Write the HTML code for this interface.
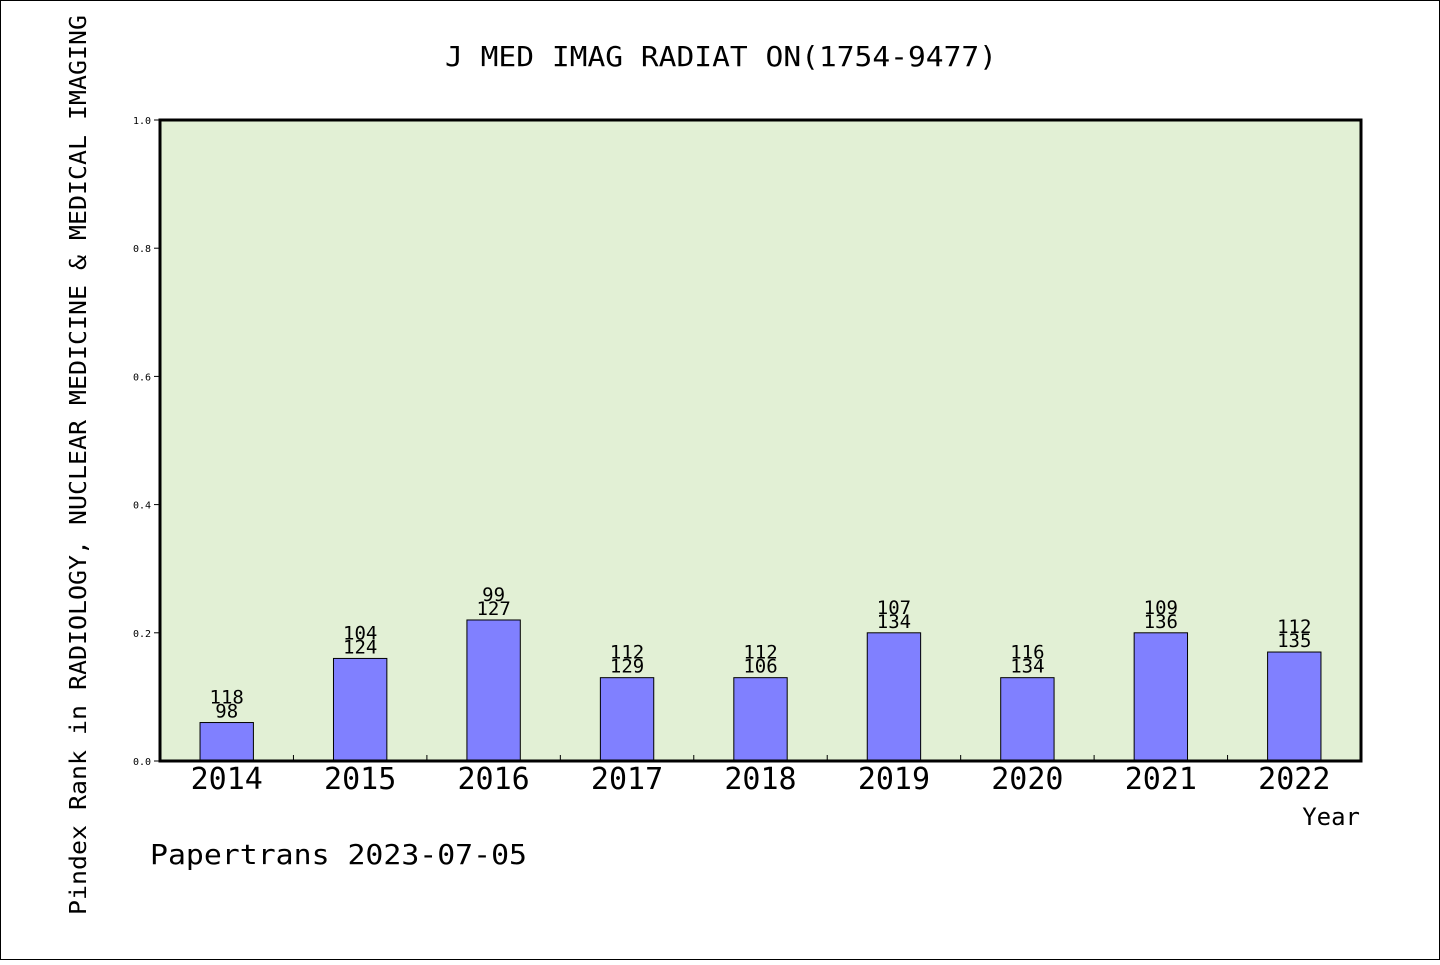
<!DOCTYPE html>
<html><head><meta charset="utf-8"><style>
body{margin:0;background:#fff;}
svg text{font-family:"DejaVu Sans Mono","Liberation Mono",monospace;}
</style></head><body>
<svg width="1440" height="960" viewBox="0 0 1440 960">
<rect x="0.5" y="0.5" width="1439" height="959" fill="#fff" stroke="#000"/>
<text x="445" y="66" font-size="28" textLength="552" lengthAdjust="spacingAndGlyphs">J MED IMAG RADIAT ON(1754-9477)</text>
<rect x="160" y="120" width="1201" height="641" fill="#e2f0d5"/>
<g id="bars"></g>
<rect x="160" y="120" width="1201" height="641" fill="none" stroke="#000" stroke-width="3"/>
<g id="axes"></g>
<text x="1360" y="825" text-anchor="end" font-size="24">Year</text>
<text x="150" y="864" font-size="28" textLength="377" lengthAdjust="spacingAndGlyphs">Papertrans 2023-07-05</text>
<text transform="translate(86,915) rotate(-90)" font-size="23" textLength="900" lengthAdjust="spacingAndGlyphs">Pindex Rank in RADIOLOGY, NUCLEAR MEDICINE &amp; MEDICAL IMAGING</text>
</svg>
<script>
const categories=["2014","2015","2016","2017","2018","2019","2020","2021","2022"];
const values=[0.06,0.16,0.22,0.13,0.13,0.20,0.13,0.20,0.17];
const topLabels=["118","104","99","112","112","107","116","109","112"];
const bottomLabels=["98","124","127","129","106","134","134","136","135"];
const yTicks=[0,0.2,0.4,0.6,0.8,1.0];
const NS="http://www.w3.org/2000/svg";
const X0=160,X1=1361,Y0=761,Y1=120;
const band=(X1-X0)/categories.length;
const xC=i=>X0+band*(i+0.5);
const yS=v=>Y0-(Y0-Y1)*v;
function mk(t,a,p){const e=document.createElementNS(NS,t);for(const k in a)e.setAttribute(k,a[k]);p.appendChild(e);return e;}
const gb=document.getElementById('bars'),ga=document.getElementById('axes');
const bw=band*0.4;
categories.forEach((c,i)=>{
 const r=mk('rect',{x:xC(i)-bw/2,y:yS(values[i]),width:bw,height:Y0-yS(values[i]),fill:'#8080ff',stroke:'#000','stroke-width':1},gb);
 
 
 const t1=mk('text',{x:xC(i),y:yS(values[i])-19,'text-anchor':'middle','font-size':19},gb);t1.textContent=topLabels[i];
 
 
 const t2=mk('text',{x:xC(i),y:yS(values[i])-5,'text-anchor':'middle','font-size':19},gb);t2.textContent=bottomLabels[i];
 
 
 const xl=mk('text',{x:xC(i),y:789,'text-anchor':'middle','font-size':30},ga);xl.textContent=c;
 
 
 if(i>0){const tk=mk('line',{x1:X0+band*i,x2:X0+band*i,y1:Y0,y2:Y0-6,stroke:'#000','stroke-width':1},ga);
 
 }
});
yTicks.forEach(v=>{
 const l=mk('line',{x1:X0-6,x2:X0,y1:yS(v),y2:yS(v),stroke:'#000','stroke-width':1},ga);
 
 
 const t=mk('text',{x:X0-9,y:yS(v)+4,'text-anchor':'end','font-size':10},ga);t.textContent=v.toFixed(1);
 
 
});
</script>
</body></html>
